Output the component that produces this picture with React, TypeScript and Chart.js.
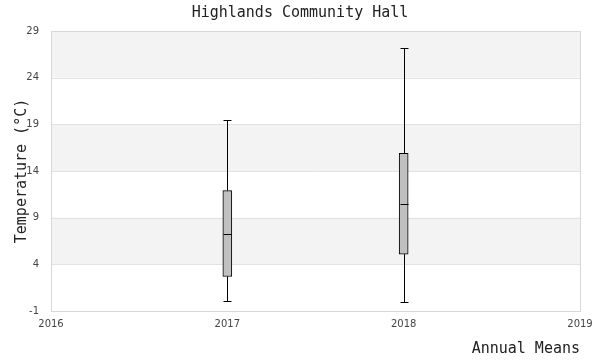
import React, { useEffect, useRef } from "react";
import { Chart, registerables } from "chart.js";

Chart.register(...registerables);

const years = [2017, 2018];
const mins = [0.1, 0.0];
const q1s = [2.7, 5.1];
const medians = [7.25, 10.45];
const q3s = [11.9, 15.9];
const maxs = [19.5, 27.2];

const yTicksMin = -1;
const yTicksMax = 29;
const yStep = 5;
const xMin = 2016;
const xMax = 2019;

const titleText = "Highlands Community Hall";
const yTitle = "Temperature (°C)";
const xTitle = "Annual Means";

const bandsPlugin = {
  id: "bands",
  beforeDatasetsDraw(chart: any) {
    const { ctx, chartArea, scales } = chart;
    const y = scales.y;
    const ticks = y.ticks.map((t: any) => t.value);
    ctx.save();
    for (let i = 0; i < ticks.length - 1; i++) {
      const top = ticks[ticks.length - 1 - i];
      const bot = ticks[ticks.length - 2 - i];
      if (i % 2 === 0) {
        const yt = y.getPixelForValue(top);
        const yb = y.getPixelForValue(bot);
        ctx.fillStyle = "#f3f3f3";
        ctx.fillRect(chartArea.left, yt, chartArea.right - chartArea.left, yb - yt);
      }
    }
    ctx.strokeStyle = "#e2e2e2";
    ctx.lineWidth = 1;
    ticks.forEach((v: number) => {
      const py = Math.round(y.getPixelForValue(v)) + 0.5;
      ctx.beginPath();
      ctx.moveTo(chartArea.left, py);
      ctx.lineTo(chartArea.right, py);
      ctx.stroke();
    });
    ctx.strokeStyle = "#d8d8d8";
    ctx.strokeRect(
      Math.round(chartArea.left) + 0.5,
      Math.round(chartArea.top) + 0.5,
      Math.round(chartArea.right - chartArea.left),
      Math.round(chartArea.bottom - chartArea.top)
    );
    ctx.restore();
  },
};

const whiskerPlugin = {
  id: "whiskers",
  afterDatasetsDraw(chart: any) {
    const { ctx, scales } = chart;
    const x = scales.x;
    const y = scales.y;
    ctx.save();
    ctx.strokeStyle = "#000";
    ctx.lineWidth = 1;
    const capHalf = 4;
    const boxHalf = 4;
    years.forEach((yr, i) => {
      const px = Math.round(x.getPixelForValue(yr)) + 0.5;
      const pMax = Math.round(y.getPixelForValue(maxs[i])) + 0.5;
      const pMin = Math.round(y.getPixelForValue(mins[i])) + 0.5;
      const pQ1 = y.getPixelForValue(q1s[i]);
      const pQ3 = y.getPixelForValue(q3s[i]);
      const pMed = Math.round(y.getPixelForValue(medians[i])) + 0.5;
      ctx.beginPath();
      ctx.moveTo(px, pMax);
      ctx.lineTo(px, pQ3);
      ctx.moveTo(px, pQ1);
      ctx.lineTo(px, pMin);
      ctx.moveTo(px - capHalf, pMax);
      ctx.lineTo(px + capHalf, pMax);
      ctx.moveTo(px - capHalf, pMin);
      ctx.lineTo(px + capHalf, pMin);
      ctx.moveTo(px - boxHalf, pMed);
      ctx.lineTo(px + boxHalf, pMed);
      ctx.stroke();
    });
    ctx.restore();
  },
};

export default function App() {
  const ref = useRef<HTMLCanvasElement>(null);
  useEffect(() => {
    if (!ref.current) return;
    const chart = new Chart(ref.current, {
      type: "bar",
      data: {
        datasets: [
          {
            data: years.map((yr, i) => ({ x: yr, y: [q1s[i], q3s[i]] })) as any,
            backgroundColor: "#c0c0c0",
            borderColor: "#000",
            borderWidth: 1,
            borderSkipped: false,
            barThickness: 9,
          },
        ],
      },
      options: {
        animation: false,
        responsive: false,
        layout: { padding: { right: 0, top: 0, bottom: 0, left: 0 } },
        plugins: {
          legend: { display: false },
          tooltip: { enabled: false },
          title: {
            display: true,
            text: titleText,
            color: "#222",
            font: { family: "'DejaVu Sans Mono', monospace", size: 15, weight: "normal", lineHeight: 1.2 },
            padding: { top: 4, bottom: 9 },
          },
        },
        scales: {
          x: {
            type: "linear",
            min: xMin,
            max: xMax,
            offset: false,
            grid: { display: false, drawTicks: false },
            border: { display: false },
            afterFit: (scale: any) => {
              scale.paddingRight = 20;
            },
            ticks: {
              stepSize: 1,
              color: "#444",
              font: { family: "'DejaVu Sans', sans-serif", size: 10 },
              padding: 7,
              callback: (v: any) => String(v),
              maxRotation: 0,
            },
            title: {
              display: true,
              text: xTitle,
              align: "end",
              color: "#222",
              font: { family: "'DejaVu Sans Mono', monospace", size: 15, lineHeight: 1.2 },
              padding: { top: 3, bottom: 2 },
            },
          },
          y: {
            min: yTicksMin,
            max: yTicksMax,
            grid: { display: false, drawTicks: false },
            border: { display: false },
            afterFit: (scale: any) => {
              scale.width = 51;
            },
            ticks: {
              stepSize: yStep,
              color: "#444",
              font: { family: "'DejaVu Sans', sans-serif", size: 10 },
              padding: 12,
            },
            title: {
              display: true,
              text: yTitle,
              color: "#222",
              font: { family: "'DejaVu Sans Mono', monospace", size: 15, lineHeight: 1 },
              padding: { top: 15, bottom: 0 },
            },
          },
        },
      },
      plugins: [bandsPlugin, whiskerPlugin],
    });
    return () => chart.destroy();
  }, []);
  return (
    <div style={{ position: "fixed", left: 0, top: 0, width: 600, height: 360 }}>
      <canvas ref={ref} width={600} height={360} />
    </div>
  );
}
